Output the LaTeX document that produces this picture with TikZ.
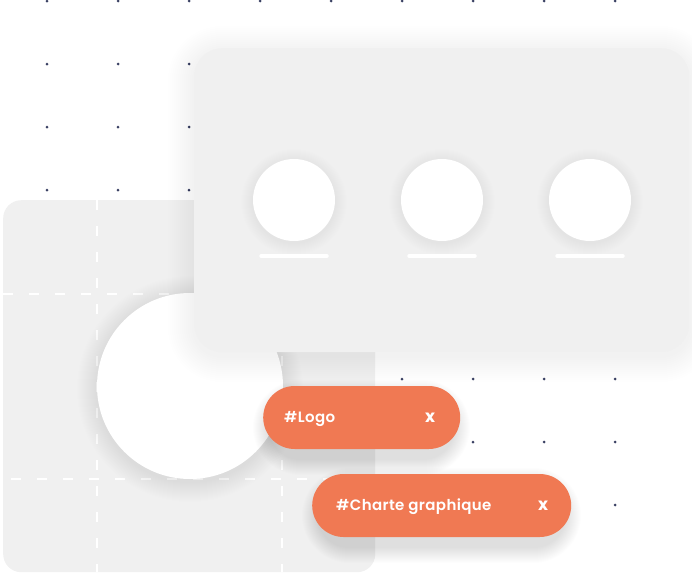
\documentclass[tikz,border=0pt]{standalone}
\usepackage{fontspec}
\setmainfont{Poppins}
\newfontfamily\tagfont{Poppins SemiBold}[LetterSpace=2.5]
\usetikzlibrary{positioning}
\definecolor{panelgray}{HTML}{F0F0F0}
\definecolor{dotnavy}{HTML}{3A4163}
\definecolor{tagorange}{HTML}{F07953}

\begin{document}
\begin{tikzpicture}[
    x=1pt, y=-1pt,
    panel/.style={
        fill=panelgray, draw=none,
        rounded corners=28pt,
        inner sep=0pt
    },
    avatar/.style={
        circle, fill=white,
        inner sep=0pt, minimum size=82pt
    },
    haze/.style={black, opacity=#1},
    nameline/.style={white, line width=3.5pt, line cap=round},
    guide/.style={white, line width=1.8pt, dash pattern=on 10pt off 16pt},
    tag/.style={
        fill=tagorange, rounded corners=31.5pt,
        minimum height=63pt, inner sep=0pt
    },
    tagtext/.style={
        text=white, inner sep=0pt,
        text height=10.5pt, text depth=0pt,
        font=\tagfont\fontsize{15}{18}\selectfont
    },
    tagclose/.style={
        text=white, inner sep=0pt,
        text height=9pt, text depth=0pt,
        font=\bfseries\fontsize{17}{18}\selectfont
    }
]
\useasboundingbox (0,0) rectangle (692,573);

% dot grid
\foreach \i in {0,...,8}
    \foreach \j in {0,...,8}
        \fill[dotnavy] (47+71*\i, 1+63*\j) circle (1.5pt);

% logo sheet with its guides
\node[panel, rounded corners=18pt, minimum width=372pt, minimum height=372pt,
    anchor=north west] (sheet) at (3,200) {};
\draw[guide] (97,200) -- (97,572);
\draw[guide] (282,200) -- (282,572);
\draw[guide] (3,294) -- (375,294);
\draw[guide, dash phase=18pt] (3,479) -- (375,479);
\foreach \s in {1,...,20}
    \fill[haze=0.003] (190,389) circle (93+\s);
\node[avatar, minimum size=186pt] (mark) at (190,386) {};

% team card
\foreach \s in {2,4,...,26}
    \fill[haze=0.0022, rounded corners={28pt+\s pt}]
        (194-\s,52-\s) rectangle (689+\s,356+\s);
\node[panel, minimum width=495pt, minimum height=304pt,
    anchor=north west] (card) at (194,48) {};
\foreach \x [count=\k] in {294,442,590} {
    \foreach \s in {1,...,12}
        \fill[haze=0.0025] (\x,202) circle (41+\s);
    \node[avatar] (member\k) at (\x,200) {};
    \draw[nameline] (\x-33,256) -- (\x+33,256);
}

% tags
\foreach \s in {1,...,16}
    \fill[haze=0.009, rounded corners={31.5pt+\s pt}]
        (263+6-\s,396-\s) rectangle (460-6+\s,459+\s);
\node[tag, minimum width=197pt, anchor=west] (logo) at (263,417.5) {};
\node[tagtext, right=21pt of logo.west] (logolabel) {\#Logo};
\node[tagclose, left=25pt of logo.east] (logoclose) {x};

\foreach \s in {1,...,16}
    \fill[haze=0.009, rounded corners={31.5pt+\s pt}]
        (312+6-\s,484-\s) rectangle (571-6+\s,547+\s);
\node[tag, minimum width=259pt, anchor=west] (charte) at (312,505.5) {};
\node[tagtext, right=24pt of charte.west] (chartelabel) {\#Charte graphique};
\node[tagclose, left=23pt of charte.east] (charteclose) {x};
\end{tikzpicture}
\end{document}
